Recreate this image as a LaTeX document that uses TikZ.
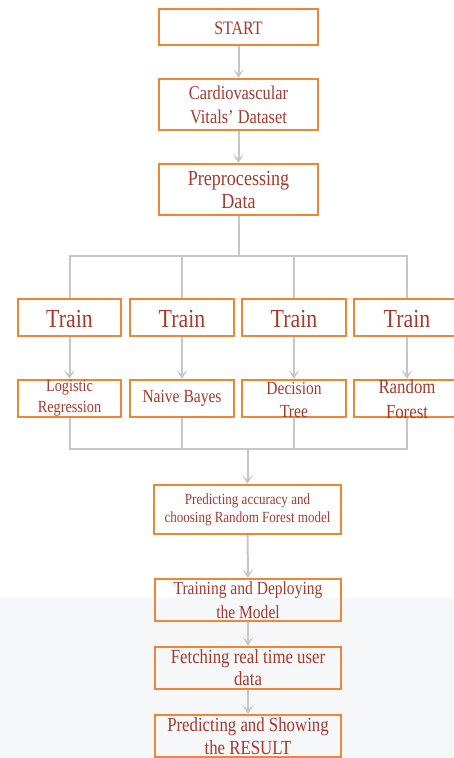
\documentclass[tikz,border=0pt]{standalone}
\usepackage{fontspec}
\setmainfont[FakeStretch=0.84]{Liberation Serif}
\usetikzlibrary{arrows.meta}
\definecolor{boxorange}{HTML}{F28434}
\definecolor{txtred}{HTML}{A8382C}
\definecolor{linegray}{HTML}{C6C6C6}
\definecolor{bggray}{HTML}{F5F7F9}
\newcommand{\fs}[2]{\fontsize{#1}{#2}\selectfont}
\tikzset{
  box/.style={draw=boxorange, line width=2.2pt, rectangle, inner sep=0pt},
  txt/.style={text=txtred, align=center, inner sep=0pt},
  conn/.style={draw=linegray, line width=2pt},
  arr/.style={conn, -{Stealth[length=9pt,width=11pt,inset=5pt]}},
}
\begin{document}
\begin{tikzpicture}[x=1pt,y=-1pt]
\useasboundingbox (0,0) rectangle (453,758);
\fill[bggray] (0,598) rectangle (453,758);

% boxes
\node[box, minimum width=159pt, minimum height=36pt] (start) at (238.5,27) {};
\node[box, minimum width=159pt, minimum height=51pt] (data) at (238.5,104.5) {};
\node[box, minimum width=159pt, minimum height=51pt] (pre) at (238.5,189.5) {};
\node[box, minimum width=103pt, minimum height=37pt] (t1) at (69.5,317.5) {};
\node[box, minimum width=104pt, minimum height=37pt] (t2) at (182,317.5) {};
\node[box, minimum width=104pt, minimum height=37pt] (t3) at (294,317.5) {};
\node[box, minimum width=106pt, minimum height=37pt] (t4) at (407,317.5) {};
\node[box, minimum width=103pt, minimum height=37pt] (m1) at (69.5,398.5) {};
\node[box, minimum width=104pt, minimum height=37pt] (m2) at (182,398.5) {};
\node[box, minimum width=104pt, minimum height=37pt] (m3) at (294,398.5) {};
\node[box, minimum width=106pt, minimum height=37pt] (m4) at (407,398.5) {};
\node[box, minimum width=187pt, minimum height=49pt] (pred) at (247.5,509.5) {};
\node[box, minimum width=186pt, minimum height=42pt] (deploy) at (248,600) {};
\node[box, minimum width=186pt, minimum height=42pt] (fetch) at (248,668) {};
\node[box, minimum width=186pt, minimum height=42pt] (result) at (248,736) {};

% texts
\node[txt, font=\fs{19}{23}] (startT) at (238.5,28) {START};
\node[txt, font=\fs{19.5}{24}] (dataT) at (data) {Cardiovascular\\Vitals’ Dataset};
\node[txt, font=\fs{21.5}{23}] (preT) at (pre) {Preprocessing\\Data};
\node[txt, font=\fs{26}{28}] (t1T) at (69.5,319) {Train};
\node[txt, font=\fs{26}{28}] (t2T) at (182,319) {Train};
\node[txt, font=\fs{26}{28}] (t3T) at (294,319) {Train};
\node[txt, font=\fs{26}{28}] (t4T) at (407,319) {Train};
\node[txt, font=\fs{17}{21}] (m1T) at (m1) {Logistic\\Regression};
\node[txt, font=\fs{18.5}{22}] (m2T) at (m2) {Naive Bayes};
\node[txt, font=\fs{18.5}{23}] (m3T) at (294,399.5) {Decision\\Tree};
\node[txt, font=\fs{20}{25}] (m4T) at (407,399.5) {Random\\Forest};
\node[txt, font=\fs{15.5}{18}] (predT) at (pred) {Predicting accuracy and\\choosing Random Forest model};
\node[txt, font=\fs{18.5}{24}] (deployT) at (deploy) {Training and Deploying\\the Model};
\node[txt, font=\fs{20}{22}] (fetchT) at (fetch) {Fetching real time user\\data};
\node[txt, font=\fs{20}{23}] (resultT) at (result) {Predicting and Showing\\the RESULT};

% connectors
\coordinate (split) at (238.5,256);
\coordinate (merge) at (247.5,449);
\draw[arr] (start) -- (data);
\draw[arr] (data) -- (pre);
\draw[conn] (pre.south) -- (split);
\draw[conn] (t1.north) |- (split) -| (t4.north);
\draw[conn] (t2.north) |- (split);
\draw[conn] (t3.north) |- (split);
\draw[arr] (t1) -- (m1);
\draw[arr] (t2) -- (m2);
\draw[arr] (t3) -- (m3);
\draw[arr] (t4) -- (m4);
\draw[conn] (m1.south) |- (merge) -| (m4.south);
\draw[conn] (m2.south) |- (merge);
\draw[conn] (m3.south) |- (merge);
\draw[arr] (merge) -- (pred.north);
\draw[arr] (pred) -- (deploy);
\draw[arr] (deploy) -- (fetch);
\draw[arr] (fetch) -- (result);
\end{tikzpicture}
\end{document}
